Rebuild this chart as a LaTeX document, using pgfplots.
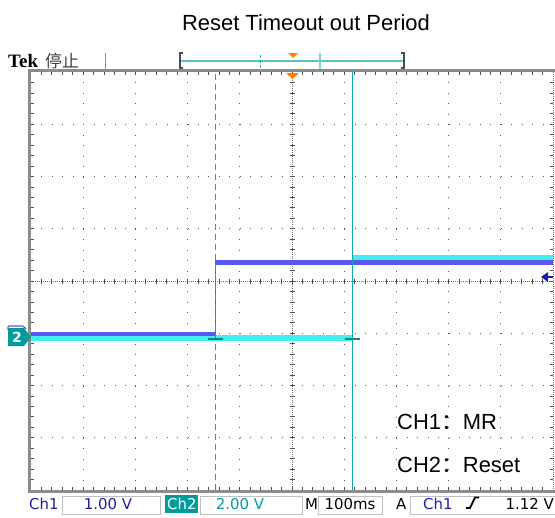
\documentclass[border=0pt]{standalone}
\usepackage{pgfplots}
\pgfplotsset{compat=1.18}
\usepackage{fontspec}
\setmainfont{Liberation Sans}
\newfontfamily\cjk{Noto Sans CJK SC}
\newfontfamily\tekfont{Liberation Serif}
\newfontfamily\scopefont{DejaVu Sans}

\definecolor{chone}{HTML}{5858F0}
\definecolor{chtwo}{HTML}{44EEEE}
\definecolor{cursor}{HTML}{10A8A8}
\definecolor{tealbox}{HTML}{009C9C}
\definecolor{dblue}{HTML}{1C1CA8}
\definecolor{bord}{HTML}{8C8C8C}
\definecolor{orng}{HTML}{FF8000}

\begin{document}
\begin{tikzpicture}
\useasboundingbox (0,0) rectangle (555bp,-518bp);
\begin{scope}[x=1bp,y=1bp]
% title and top line
\node[anchor=base, inner sep=0, font=\fontsize{22}{24}\selectfont] at (306,-30) {Reset Timeout out Period};
\node[anchor=base west, inner sep=0, font=\tekfont\bfseries\fontsize{19}{20}\selectfont] at (8,-67) {Tek};
\node[anchor=base west, inner sep=0, font=\cjk\fontsize{17}{18}\selectfont, text=black!75] at (45,-67) {停止};
\draw[bord, line width=1] (105,-53) -- (105,-70);
\draw[cursor!70, line width=1.5] (181,-61) -- (404,-61);
\draw[black!70, line width=1.2] (183,-53) -- (180,-53) -- (180,-68) -- (183,-68);
\draw[black!70, line width=1.2] (401,-53) -- (404,-53) -- (404,-68) -- (401,-68);
\draw[cursor, line width=1, dash pattern=on 3bp off 2bp] (260,-55) -- (260,-68);
\draw[cursor!50, line width=2] (320,-53) -- (320,-69);
\fill[orng] (288,-53) -- (298,-53) -- (293,-58) -- cycle;

% graticule
\foreach \i in {1,2,3,4,6,7,8,9} {
  \draw[black!65, line width=1, dash pattern=on 1bp off 9.45bp] (31+52.2*\i,-72) -- (31+52.2*\i,-490);
}
\foreach \j in {1,2,3,5,6,7} {
  \draw[black!65, line width=1, dash pattern=on 1bp off 9.44bp] (31,-72-52.25*\j) -- (553,-72-52.25*\j);
}
\draw[black!55, line width=1, dash pattern=on 1bp off 1bp] (292,-72) -- (292,-490);
\draw[black!55, line width=1, dash pattern=on 1bp off 1bp] (31,-281) -- (553,-281);
\draw[black!55, line width=1, dash pattern=on 1bp off 1bp] (553,-72) -- (553,-490);
\foreach \k in {1,...,49} {
  \draw[black!70, line width=0.8] (31+10.44*\k,-278.5) -- (31+10.44*\k,-283.5);
  \draw[black!70, line width=0.8] (31+10.44*\k,-72) -- (31+10.44*\k,-75);
  \draw[black!70, line width=0.8] (31+10.44*\k,-490) -- (31+10.44*\k,-487);
}
\foreach \k in {1,...,39} {
  \draw[black!70, line width=0.8] (289.5,-72-10.45*\k) -- (294.5,-72-10.45*\k);
  \draw[black!70, line width=0.8] (31,-72-10.45*\k) -- (34,-72-10.45*\k);
  \draw[black!70, line width=0.8] (553,-72-10.45*\k) -- (550,-72-10.45*\k);
}
\draw[bord, line width=3] (555,-70.5) -- (29.5,-70.5) -- (29.5,-491.5) -- (555,-491.5);
\fill[orng] (286,-73) -- (299,-73) -- (292.5,-79) -- cycle;
\end{scope}

% traces
\begin{axis}[at={(31bp,-490bp)}, anchor=south west, scale only axis,
  width=522bp, height=418bp, xmin=0, xmax=10, ymin=0, ymax=8,
  hide axis, clip=false]
\addplot[chtwo, line width=6bp] coordinates {(0,2.90) (6.16,2.90)};
\addplot[chtwo, line width=5bp] coordinates {(6.16,4.45) (10,4.45)};
\addplot[chtwo, line width=1.5bp] coordinates {(6.16,2.90) (6.16,4.45)};
\addplot[chone, line width=4.5bp] coordinates {(0,2.99) (3.534,2.99)};
\addplot[chone, line width=4.5bp] coordinates {(3.534,4.354) (10,4.354)};
\addplot[chone, line width=1.5bp] coordinates {(3.534,2.99) (3.534,4.354)};
% cursors
\addplot[cursor, line width=1bp, dash pattern=on 6bp off 4bp] coordinates {(3.53,0) (3.53,8)};
\addplot[cursor, line width=1.5bp] coordinates {(6.16,0) (6.16,8)};
\addplot[cursor!80!black, line width=1.5bp] coordinates {(3.39,2.89) (3.68,2.89)};
\addplot[cursor!80!black, line width=1.5bp] coordinates {(6.02,2.89) (6.30,2.89)};
\end{axis}

\begin{scope}[x=1bp,y=1bp]
% channel markers
\draw[dblue!70, line width=1.2, rounded corners=1] (8,-330) -- (8,-326) -- (23,-326) -- (26,-329);
\fill[tealbox] (8,-328) -- (24,-328) -- (31,-337) -- (24,-346) -- (8,-346) -- cycle;
\node[text=white, inner sep=0, font=\scopefont\bfseries\fontsize{14}{14}\selectfont] at (17,-337) {2};
\fill[dblue] (541,-277) -- (548,-272) -- (548,-282) -- cycle;
\draw[dblue, line width=1.5] (546,-277) -- (553,-277);

% labels
\node[anchor=base west, inner sep=0, font=\fontsize{22}{24}\selectfont] at (397,-429) {CH1{\cjk ：}MR};
\node[anchor=base west, inner sep=0, font=\fontsize{22}{24}\selectfont] at (397,-472) {CH2{\cjk ：}Reset};

% status bar
\begin{scope}[every node/.style={inner sep=0, font=\scopefont\fontsize{15}{16}\selectfont}]
\node[anchor=base west, text=dblue] at (29,-509) {Ch1};
\draw[black!25, line width=1] (62,-496) rectangle (160,-514);
\node[anchor=base, text=dblue] at (108,-509) {1.00 V};
\fill[tealbox] (165,-495) rectangle (198,-513);
\node[anchor=base west, text=white] at (167,-509) {Ch2};
\draw[black!25, line width=1] (200,-496) rectangle (302,-514);
\node[anchor=base, text=tealbox] at (240,-509) {2.00 V};
\node[anchor=base west] at (305,-509) {M};
\draw[black!25, line width=1] (318,-496) rectangle (382,-514);
\node[anchor=base] at (350,-509) {100ms};
\node[anchor=base west] at (396,-509) {A};
\draw[black!25, line width=1] (410,-496) rectangle (560,-514);
\node[anchor=base west, text=dblue] at (423,-509) {Ch1};
\draw[black, line width=1.8] (466,-508) -- (470,-508) -- (475,-497.5) -- (479,-497.5);
\node[anchor=base east] at (554,-509) {1.12 V};
\end{scope}
\end{scope}
\end{tikzpicture}
\end{document}
